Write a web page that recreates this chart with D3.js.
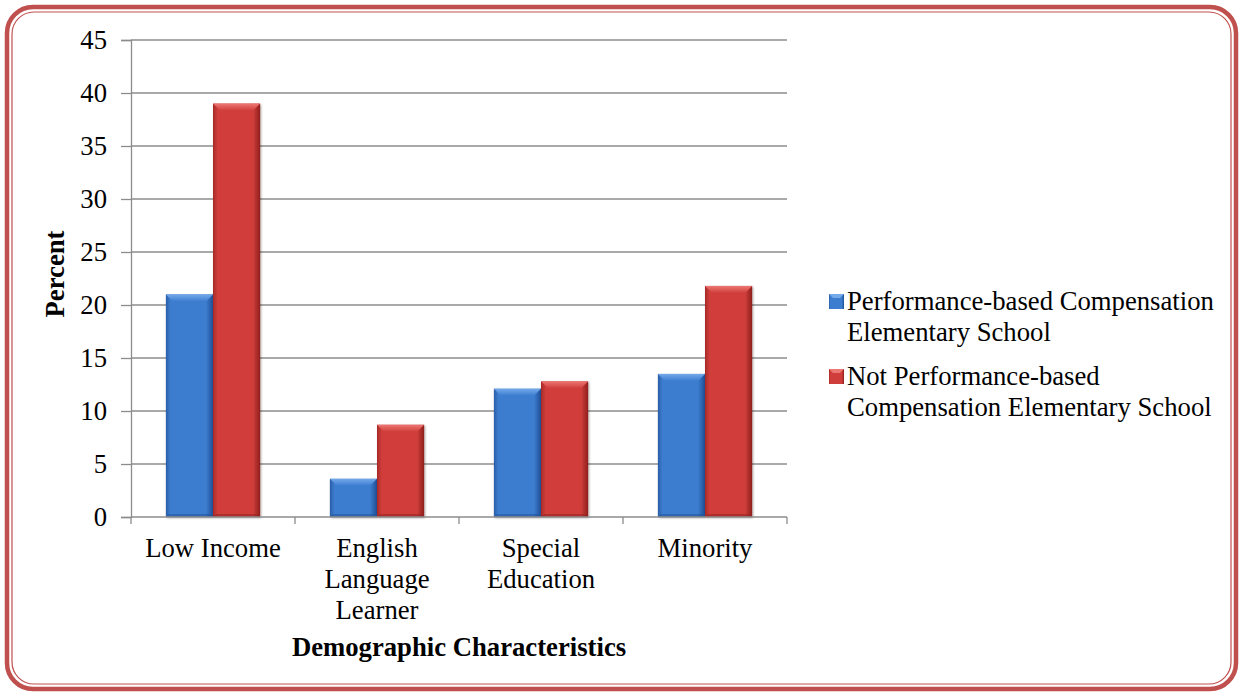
<!DOCTYPE html>
<html>
<head>
<meta charset="utf-8">
<script src="https://cdn.jsdelivr.net/npm/d3@7"></script>
<style>
  html, body { margin: 0; padding: 0; background: #fff; }
  svg { display: block; font-family: "Liberation Serif", "Times New Roman", serif; }
</style>
</head>
<body>
<svg id="chart" width="1243" height="696"></svg>
<script>
const categories = [["Low Income"], ["English", "Language", "Learner"], ["Special", "Education"], ["Minority"]];
const seriesNames = [
  ["Performance-based Compensation", "Elementary School"],
  ["Not Performance-based", "Compensation Elementary School"]
];
const performanceBased = [21, 3.6, 12.1, 13.5];
const notPerformanceBased = [39, 8.7, 12.8, 21.8];
const yTicks = [0, 5, 10, 15, 20, 25, 30, 35, 40, 45];

const series = [performanceBased, notPerformanceBased];
const palette = [
  { base: "#3c7dd0", light: "#74a9ea", dark: "#1f4f94", edge: "#2a5da6" },
  { base: "#d03e3b", light: "#ec7773", dark: "#8e1f1d", edge: "#a52a27" }
];
const FONT = 26.7;

const svg = d3.select("#chart");
const plot = { left: 131, right: 787, top: 40, bottom: 517 };

// rounded double border
svg.append("rect").attr("x", 7).attr("y", 7).attr("width", 1229).attr("height", 682)
  .attr("rx", 26).attr("fill", "none").attr("stroke", "#c0504d").attr("stroke-width", 4.5);
svg.append("rect").attr("x", 12).attr("y", 12).attr("width", 1219).attr("height", 672)
  .attr("rx", 22).attr("fill", "none").attr("stroke", "#c0504d").attr("stroke-width", 1.2);

const defs = svg.append("defs");
palette.forEach((p, i) => {
  const g = defs.append("linearGradient").attr("id", "bar" + i).attr("x1", 0).attr("x2", 1).attr("y1", 0).attr("y2", 0);
  g.append("stop").attr("offset", "0%").attr("stop-color", p.edge);
  g.append("stop").attr("offset", "10%").attr("stop-color", p.base);
  g.append("stop").attr("offset", "85%").attr("stop-color", p.base);
  g.append("stop").attr("offset", "100%").attr("stop-color", p.dark);
  const t = defs.append("linearGradient").attr("id", "top" + i).attr("x1", 0).attr("x2", 0).attr("y1", 0).attr("y2", 1);
  t.append("stop").attr("offset", "0%").attr("stop-color", p.light);
  t.append("stop").attr("offset", "100%").attr("stop-color", p.base);
});
const shadow = defs.append("filter").attr("id", "shadow").attr("x", "-20%").attr("y", "-10%").attr("width", "140%").attr("height", "120%");
shadow.append("feDropShadow").attr("dx", 1).attr("dy", 1).attr("stdDeviation", 1.2).attr("flood-color", "#000").attr("flood-opacity", 0.35);

const y = d3.scaleLinear().domain([0, 45]).range([plot.bottom, plot.top]);
const x0 = d3.scaleBand().domain(d3.range(categories.length)).range([plot.left, plot.right]).padding(0);
const x1 = d3.scaleBand().domain(d3.range(series.length)).range([0, x0.bandwidth()]).paddingOuter(0.74).paddingInner(0);

// gridlines
svg.append("g").selectAll("line").data(yTicks.filter(d => d > 0)).join("line")
  .attr("x1", plot.left).attr("x2", plot.right)
  .attr("y1", d => y(d)).attr("y2", d => y(d))
  .attr("stroke", "#8c8c8c").attr("stroke-width", 1.3);

// y axis
const yAxis = svg.append("g").attr("transform", `translate(${plot.left},0)`)
  .call(d3.axisLeft(y).tickValues(yTicks).tickSize(10).tickPadding(14));
yAxis.select(".domain").attr("stroke", "#8c8c8c").attr("stroke-width", 1.3);
yAxis.selectAll(".tick line").attr("stroke", "#8c8c8c").attr("stroke-width", 1.3);
yAxis.selectAll("text").attr("font-size", FONT).attr("fill", "#000").attr("dy", "0.3em")
  .attr("font-family", "Liberation Serif, Times New Roman, serif");

// bars
const groups = svg.append("g").selectAll("g").data(categories).join("g")
  .attr("transform", (d, i) => `translate(${x0(i)},0)`);
groups.each(function (c, ci) {
  const g = d3.select(this);
  series.forEach((vals, si) => {
    const v = vals[ci];
    const bx = x1(si), bw = x1.bandwidth(), by = y(v), bh = y(0) - y(v);
    const bevel = Math.min(7, bh / 2);
    g.append("rect").attr("x", bx).attr("y", by).attr("width", bw).attr("height", bh)
      .attr("fill", `url(#bar${si})`).attr("filter", "url(#shadow)");
    g.append("path")
      .attr("d", `M${bx},${by} L${bx + bw},${by} L${bx + bw - bevel},${by + bevel} L${bx + bevel},${by + bevel} Z`)
      .attr("fill", `url(#top${si})`);
    g.append("path")
      .attr("d", `M${bx},${by + bh} L${bx + bw},${by + bh} L${bx + bw - 3},${by + bh - 3} L${bx + 3},${by + bh - 3} Z`)
      .attr("fill", palette[si].dark).attr("opacity", 0.5);
  });
});

// x axis
svg.append("line").attr("x1", plot.left).attr("x2", plot.right)
  .attr("y1", plot.bottom).attr("y2", plot.bottom).attr("stroke", "#8c8c8c").attr("stroke-width", 1.3);
svg.append("g").selectAll("line").data(d3.range(categories.length + 1)).join("line")
  .attr("x1", i => plot.left + i * x0.bandwidth()).attr("x2", i => plot.left + i * x0.bandwidth())
  .attr("y1", plot.bottom).attr("y2", plot.bottom + 7).attr("stroke", "#8c8c8c").attr("stroke-width", 1.3);

const xl = svg.append("g").selectAll("text").data(categories).join("text")
  .attr("text-anchor", "middle").attr("font-size", FONT).attr("fill", "#000");
xl.each(function (lines, i) {
  const t = d3.select(this);
  lines.forEach((ln, k) => {
    t.append("tspan").attr("x", x0(i) + x0.bandwidth() / 2).attr("y", 557 + k * 31).text(ln);
  });
});

// axis titles
svg.append("text").attr("x", 459).attr("y", 656).attr("text-anchor", "middle")
  .attr("font-size", FONT).attr("font-weight", "bold").text("Demographic Characteristics");
svg.append("text").attr("transform", "translate(64,274) rotate(-90)").attr("text-anchor", "middle")
  .attr("font-size", FONT).attr("font-weight", "bold").text("Percent");

// legend
const legendTop = [310, 385];
seriesNames.forEach((lines, si) => {
  const ly = legendTop[si];
  svg.append("rect").attr("x", 829).attr("y", ly - 16).attr("width", 15).attr("height", 15)
    .attr("fill", `url(#bar${si})`);
  svg.append("path")
    .attr("d", `M829,${ly - 16} L844,${ly - 16} L840,${ly - 12} L833,${ly - 12} Z`)
    .attr("fill", palette[si].light);
  const t = svg.append("text").attr("font-size", FONT).attr("fill", "#000");
  lines.forEach((ln, k) => {
    t.append("tspan").attr("x", 847).attr("y", ly + k * 31).text(ln);
  });
});
</script>
</body>
</html>
